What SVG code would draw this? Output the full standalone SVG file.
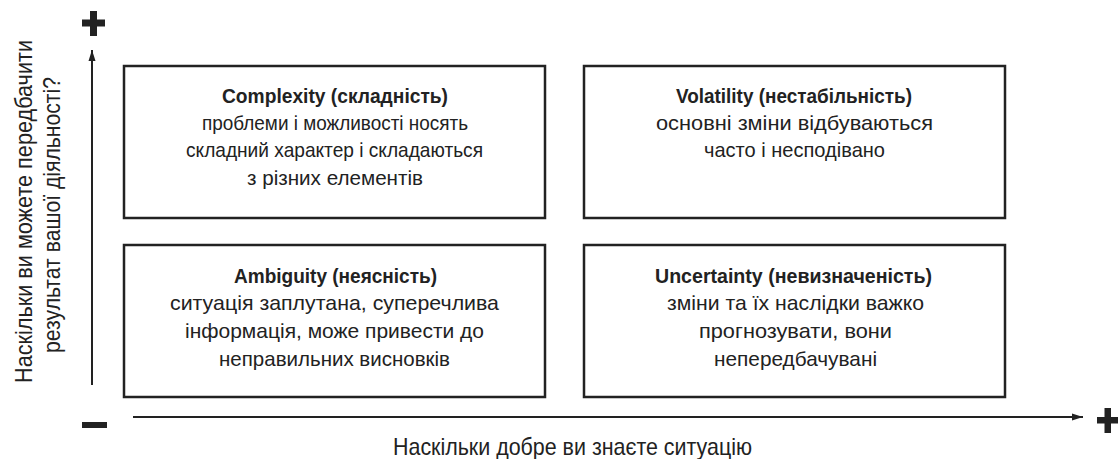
<svg xmlns="http://www.w3.org/2000/svg" width="1119" height="459" viewBox="0 0 1119 459">
<style>
.box{fill:#fff;stroke:#222;stroke-width:2.5}
.t{font-family:"Liberation Sans",Arial,sans-serif;font-size:21px;fill:#222;text-anchor:middle}
.b{font-weight:bold}
.ax{stroke:#222;stroke-width:2;fill:none}
.sign{fill:#222}
</style>
<defs>
<marker id="ah" viewBox="0 0 10 10" refX="10" refY="5" markerWidth="11" markerHeight="11" markerUnits="userSpaceOnUse" orient="auto">
<path d="M0,1.8 L10,5 L0,8.2 Z" fill="#222"/>
</marker>
</defs>
<g id="connectors">
<line class="ax" x1="92" y1="385" x2="92" y2="50" marker-end="url(#ah)"/>
<line class="ax" x1="133" y1="417" x2="1083" y2="417" marker-end="url(#ah)"/>
</g>
<g id="signs">
<rect class="sign" x="82" y="19.5" width="23" height="7"/>
<rect class="sign" x="90" y="11" width="7" height="25"/>
<rect class="sign" x="82" y="422" width="25" height="6"/>
<rect class="sign" x="1097" y="417" width="21" height="6.5"/>
<rect class="sign" x="1104.5" y="408" width="6.5" height="25"/>
</g>
<g id="complexity">
<rect class="box" x="124" y="66" width="421" height="152"/>
<text class="t b" x="335" y="103" textLength="226" lengthAdjust="spacingAndGlyphs">Complexity (складність)</text>
<text class="t" x="335" y="130" textLength="266" lengthAdjust="spacingAndGlyphs">проблеми і можливості носять</text>
<text class="t" x="334.5" y="157" textLength="297" lengthAdjust="spacingAndGlyphs">складний характер і складаються</text>
<text class="t" x="335" y="185" textLength="176" lengthAdjust="spacingAndGlyphs">з різних елементів</text>
</g>
<g id="volatility">
<rect class="box" x="584" y="66" width="421" height="152"/>
<text class="t b" x="794" y="103" textLength="236" lengthAdjust="spacingAndGlyphs">Volatility (нестабільність)</text>
<text class="t" x="794.5" y="130" textLength="277" lengthAdjust="spacingAndGlyphs">основні зміни відбуваються</text>
<text class="t" x="794.5" y="157" textLength="181" lengthAdjust="spacingAndGlyphs">часто і несподівано</text>
</g>
<g id="ambiguity">
<rect class="box" x="124" y="245" width="421" height="152"/>
<text class="t b" x="335.5" y="283" textLength="203" lengthAdjust="spacingAndGlyphs">Ambiguity (неясність)</text>
<text class="t" x="334.5" y="310" textLength="329" lengthAdjust="spacingAndGlyphs">ситуація заплутана, суперечлива</text>
<text class="t" x="334.5" y="338" textLength="299" lengthAdjust="spacingAndGlyphs">інформація, може привести до</text>
<text class="t" x="334.5" y="366" textLength="231" lengthAdjust="spacingAndGlyphs">неправильних висновків</text>
</g>
<g id="uncertainty">
<rect class="box" x="584" y="245" width="421" height="152"/>
<text class="t b" x="793.5" y="283" textLength="277" lengthAdjust="spacingAndGlyphs">Uncertainty (невизначеність)</text>
<text class="t" x="795.5" y="310" textLength="257" lengthAdjust="spacingAndGlyphs">зміни та їх наслідки важко</text>
<text class="t" x="795.5" y="338" textLength="193" lengthAdjust="spacingAndGlyphs">прогнозувати, вони</text>
<text class="t" x="795.5" y="366" textLength="163" lengthAdjust="spacingAndGlyphs">непередбачувані</text>
</g>
<g id="y-label">
<text class="t" style="font-size:24px" transform="translate(32,211.5) rotate(-90)" textLength="343" lengthAdjust="spacingAndGlyphs">Наскільки ви можете передбачити</text>
<text class="t" style="font-size:24px" transform="translate(60,215) rotate(-90)" textLength="276" lengthAdjust="spacingAndGlyphs">результат вашої діяльності?</text>
</g>
<g id="x-label">
<text class="t" style="font-size:24px" x="572.5" y="455" textLength="359" lengthAdjust="spacingAndGlyphs">Наскільки добре ви знаєте ситуацію</text>
</g>
</svg>
